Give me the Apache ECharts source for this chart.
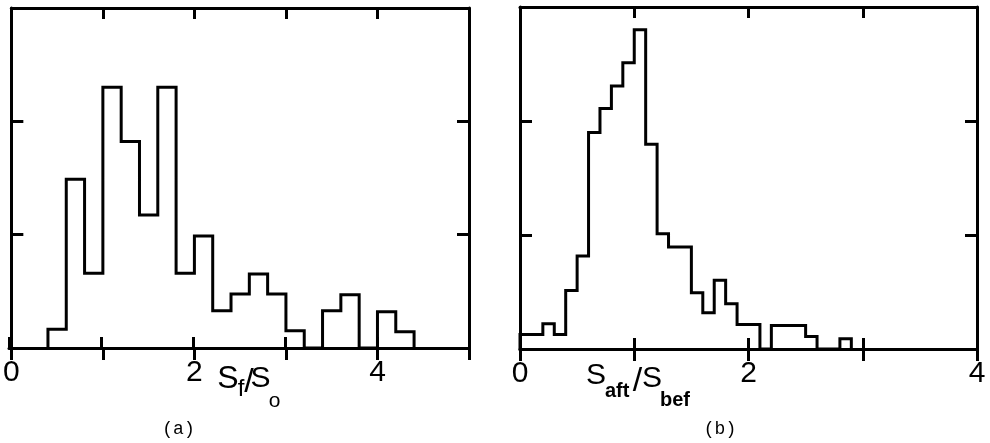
<!DOCTYPE html>
<html><head><meta charset="utf-8">
<script src="https://cdn.jsdelivr.net/npm/echarts@6/dist/echarts.min.js"></script>
<style>html,body{margin:0;padding:0;background:#fff}#c{width:990px;height:443px}</style>
</head><body><div id="c"></div>
<script>
// ---- data ----
const leftBinStarts = [0.4,0.6,0.8,1.0,1.2,1.4,1.6,1.8,2.0,2.2,2.4,2.6,2.8,3.0,3.2,3.4,3.6,3.8,4.0,4.2];
const leftBinWidth = 0.2;
const leftHeights = [0.165,1.489,0.659,2.30,1.821,1.174,2.30,0.659,0.988,0.329,0.477,0.653,0.477,0.153,0,0.329,0.470,0,0.320,0.144];

const rightBinStarts = [0.0,0.1,0.2,0.3,0.4,0.5,0.6,0.7,0.8,0.9,1.0,1.1,1.2,1.3,1.4,1.5,1.6,1.7,1.8,1.9,2.0,2.1,2.2,2.3,2.4,2.5,2.6,2.7,2.8];
const rightBinWidth = 0.1;
const rightHeights = [0.127,0.127,0.221,0.127,0.514,0.816,1.90,2.11,2.307,2.512,2.80,1.797,1.012,0.895,0.895,0.494,0.318,0.602,0.397,0.215,0.215,0,0.206,0.206,0.206,0.11,0,0,0.09];

const leftTickLabels = [0,2,4];
const rightTickLabels = [0,2,4];
const captions = ['(a)','(b)'];

function stepData(starts, width, heights){
  const pts = [[starts[0], 0]];
  starts.forEach((s,i)=>pts.push([s, heights[i]]));
  pts.push([+(starts[starts.length-1] + width).toFixed(3), 0]);
  return pts;
}

const LW = 3;
const lineStyle = {color:'#000', width: LW};
function xBottomLabels(grid, max, labels){
  return {type:'value', gridIndex:grid, position:'bottom', min:0, max:max, interval:1,
    axisLine:{show:true, onZero:false, lineStyle:lineStyle},
    axisTick:{show:true, inside:false, length:12, lineStyle:lineStyle},
    axisLabel:{show:true, margin:10, color:'#000', fontSize:30, fontFamily:'Liberation Sans',
      showMinLabel:true, showMaxLabel:true, hideOverlap:false,
      formatter: v => labels.includes(v) ? String(v) : ''},
    splitLine:{show:false}};
}
function xInner(grid, max, pos){
  return {type:'value', gridIndex:grid, position:pos, min:0, max:max, interval:1,
    axisLine:{show:true, onZero:false, lineStyle:lineStyle},
    axisTick:{show:true, inside:true, length:11, lineStyle:lineStyle},
    axisLabel:{show:false}, splitLine:{show:false}};
}
function yAx(grid, pos){
  return {type:'value', gridIndex:grid, position:pos, min:0, max:3, interval:1,
    axisLine:{show:true, onZero:false, lineStyle:lineStyle},
    axisTick:{show:true, inside:true, length:12, lineStyle:lineStyle},
    axisLabel:{show:false}, splitLine:{show:false}};
}
function yHidden(grid){
  return {type:'value', gridIndex:grid, min:0, max:3, show:false};
}

function txt(text, x, y, size, opt){
  opt = opt || {};
  return {type:'text', x:x, y:y, silent:true, z:10,
    style:{text:text, fill:'#000', fontSize:size, fontFamily:opt.font || 'Liberation Sans',
      fontWeight:opt.bold ? 'bold' : 'normal', textAlign:opt.align || 'center', textVerticalAlign:'middle'}};
}

const leftRect = {left:9, top:8, width:460, height:340};
const rightRect = {left:520, top:7, width:457, height:342};

const chart = echarts.init(document.getElementById('c'), null, {renderer:'canvas'});
chart.setOption({
  animation:false,
  backgroundColor:'#fff',
  grid:[
    Object.assign({}, leftRect),
    Object.assign({}, rightRect),
    Object.assign({}, leftRect),
    Object.assign({}, rightRect)
  ],
  xAxis:[
    xBottomLabels(0, 5, leftTickLabels),
    xInner(0, 5, 'top'),
    xBottomLabels(1, 4, rightTickLabels),
    xInner(1, 4, 'top'),
    xInner(2, 5, 'bottom'),
    xInner(3, 4, 'bottom')
  ],
  yAxis:[
    yAx(0,'left'), yAx(0,'right'),
    yAx(1,'left'), yAx(1,'right'),
    yHidden(2), yHidden(3)
  ],
  series:[
    {type:'line', xAxisIndex:0, yAxisIndex:0, step:'end', showSymbol:false, clip:false,
      lineStyle:{color:'#000', width:LW, join:'miter'}, data: stepData(leftBinStarts, leftBinWidth, leftHeights)},
    {type:'line', xAxisIndex:2, yAxisIndex:2, step:'end', showSymbol:false, clip:false,
      lineStyle:{color:'#000', width:LW, join:'miter'}, data: stepData(rightBinStarts, rightBinWidth, rightHeights)}
  ],
  graphic:[
    // left axis title S_f/S_o
    txt('S', 228, 379, 32),
    txt('f', 241, 389, 24),
    txt('/', 249, 382.5, 34),
    txt('S', 260.5, 379, 30),
    txt('o', 274.5, 401, 21),
    // right axis title S_aft/S_bef
    txt('S', 596, 376, 30),
    txt('aft', 605, 391.5, 20, {bold:true, align:'left'}),
    txt('/', 637.5, 381.7, 34),
    txt('S', 652, 378.5, 30),
    txt('bef', 660, 400, 20, {bold:true, align:'left'}),
    // captions
    txt(captions[0], 178.5, 429, 18, {font:'Liberation Mono'}),
    txt(captions[1], 720, 429, 18, {font:'Liberation Mono'})
  ]
});
</script></body></html>
